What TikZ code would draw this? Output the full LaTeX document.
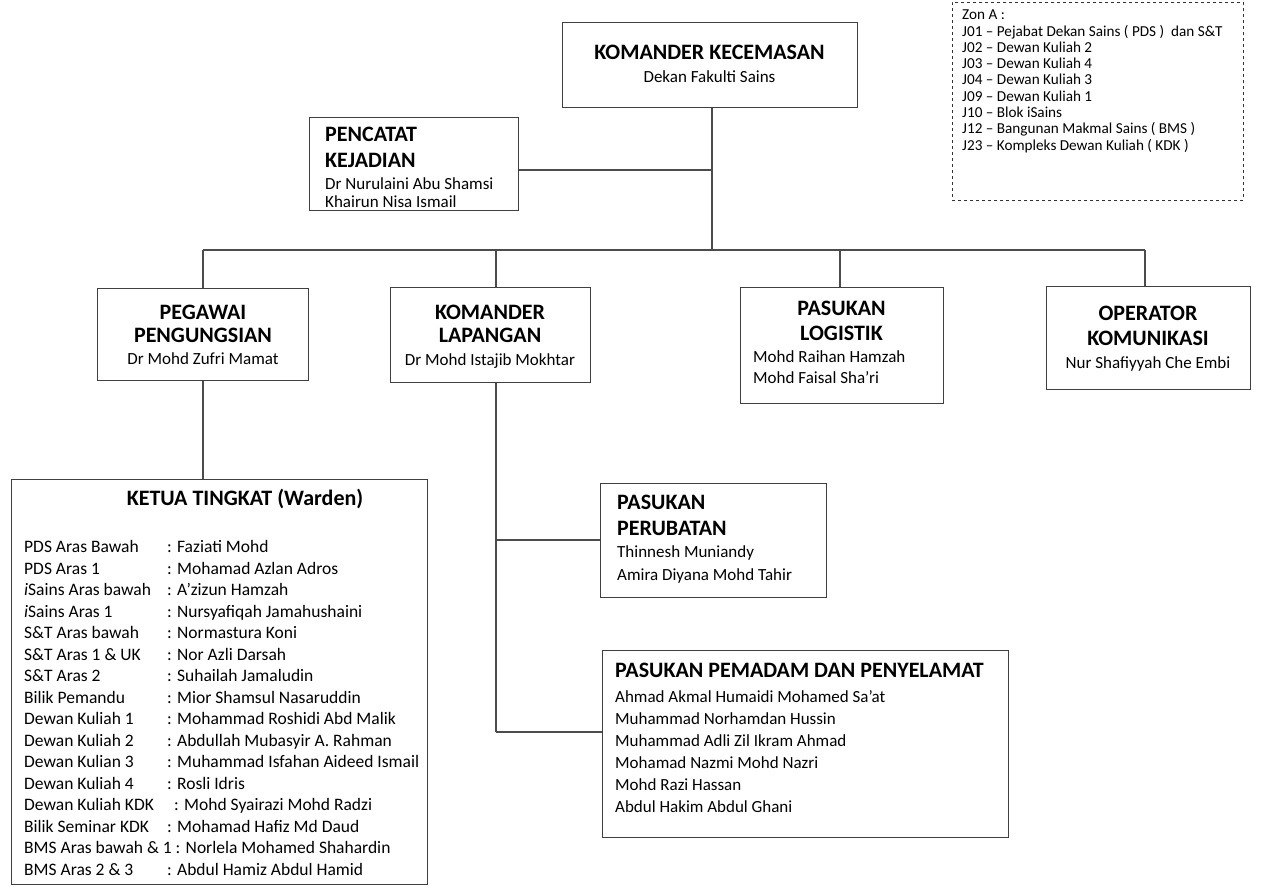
\documentclass[tikz,border=0pt]{standalone}
\usepackage{fontspec}
\setmainfont{Carlito}
\begin{document}
\begin{tikzpicture}[x=1pt,y=-1pt,
  box/.style={draw=black!75, line width=1.2pt, inner sep=0pt, anchor=north west},
  conn/.style={draw=black!70, line width=1.2pt},
  hd/.style={inner sep=0pt, anchor=base, font=\fontsize{22}{26}\selectfont\bfseries},
  hdl/.style={hd, anchor=base west},
  sb/.style={inner sep=0pt, anchor=base, font=\fontsize{17}{20}\selectfont},
  sbl/.style={sb, anchor=base west},
  li/.style={inner sep=0pt, anchor=base west, font=\fontsize{17.5}{20}\selectfont},
  lg/.style={inner sep=0pt, anchor=base west, font=\fontsize{15.2}{17}\selectfont}]
\useasboundingbox (0,0) rectangle (1265,888);

% boxes
\node[box, minimum width=295pt, minimum height=85pt] (kk) at (562,22) {};
\node[box, minimum width=209pt, minimum height=93pt] (pc) at (309,117) {};
\node[box, dashed, draw=black!80, line width=0.8pt, minimum width=291pt, minimum height=198pt] (lgd) at (952,2) {};
\node[box, minimum width=211pt, minimum height=92pt] (pp) at (97,288) {};
\node[box, minimum width=200pt, minimum height=95pt] (kl) at (390,287) {};
\node[box, minimum width=203pt, minimum height=116pt] (pl) at (740,287) {};
\node[box, minimum width=204pt, minimum height=103pt] (ok) at (1046,286) {};
\node[box, minimum width=416pt, minimum height=405pt] (kt) at (11,479) {};
\node[box, minimum width=226pt, minimum height=114pt] (pr) at (600,483) {};
\node[box, minimum width=406pt, minimum height=187pt] (pm) at (602,650) {};

% connector junctions
\coordinate (j0) at (712,250);
\coordinate (jpc) at (712,170);
\coordinate (b1) at (203,250);
\coordinate (b2) at (496,250);
\coordinate (b3) at (840,250);
\coordinate (b4) at (1145,250);
\coordinate (kl1) at (496,540);
\coordinate (kl2) at (496,732);

\draw[conn] (kk.south -| j0) -- (j0);
\draw[conn] (pc.east |- jpc) -- (jpc);
\draw[conn] (b1) -- (b4);
\draw[conn] (b1) -- (pp.north -| b1);
\draw[conn] (b2) -- (kl.north -| b2);
\draw[conn] (b3) -- (pl.north -| b3);
\draw[conn] (b4) -- (ok.north -| b4);
\draw[conn] (pp.south -| b1) -- (kt.north -| b1);
\draw[conn] (kl.south -| kl1) -- (kl2);
\draw[conn] (kl1) -- (pr.west |- kl1);
\draw[conn] (kl2) -- (pm.west |- kl2);

% texts
\node[hd] (kkt) at (709.5,60) {KOMANDER KECEMASAN};
\node[sb] (kks) at (709.5,82.5) {Dekan Fakulti Sains};

\node[hdl] (pct1) at (325,142) {PENCATAT};
\node[hdl] (pct2) at (325,167) {KEJADIAN};
\node[sbl] (pcs1) at (325,189.5) {Dr Nurulaini Abu Shamsi};
\node[sbl] (pcs2) at (325,207.5) {Khairun Nisa Ismail};

\node[hd] (ppt1) at (203,319) {PEGAWAI};
\node[hd] (ppt2) at (203,342) {PENGUNGSIAN};
\node[sb] (pps) at (203,364) {Dr Mohd Zufri Mamat};

\node[hd] (klt1) at (490,319) {KOMANDER};
\node[hd] (klt2) at (490,342) {LAPANGAN};
\node[sb] (kls) at (490,365) {Dr Mohd Istajib Mokhtar};

\node[hd] (plt1) at (841.5,315) {PASUKAN};
\node[hd] (plt2) at (841.5,340) {LOGISTIK};
\node[sbl] (pls1) at (753,362.5) {Mohd Raihan Hamzah};
\node[sbl] (pls2) at (753,383.5) {Mohd Faisal Sha’ri};

\node[hd] (okt1) at (1148,320) {OPERATOR};
\node[hd] (okt2) at (1148,345) {KOMUNIKASI};
\node[sb] (oks) at (1148,368) {Nur Shafiyyah Che Embi};

\node[hdl] (prt1) at (617,509) {PASUKAN};
\node[hdl] (prt2) at (617,535) {PERUBATAN};
\node[sbl] (prs1) at (617,557.5) {Thinnesh Muniandy};
\node[sbl] (prs2) at (617,580.5) {Amira Diyana Mohd Tahir};

\node[hdl] (pmt) at (615,677) {PASUKAN PEMADAM DAN PENYELAMAT};
\foreach \n [count=\i from 0] in {Ahmad Akmal Humaidi Mohamed Sa’at,Muhammad Norhamdan Hussin,Muhammad Adli Zil Ikram Ahmad,Mohamad Nazmi Mohd Nazri,Mohd Razi Hassan,Abdul Hakim Abdul Ghani}
  \node[sbl] (pms\i) at (615,702.5+22*\i) {\n};

\node[hd] (ktt) at (245,505) {KETUA TINGKAT (Warden)};
\foreach \a/\b/\c [count=\i from 0] in {
  PDS Aras Bawah/Faziati Mohd/167,
  PDS Aras 1/Mohamad Azlan Adros/167,
  \textit{i}Sains Aras bawah/A’zizun Hamzah/167,
  \textit{i}Sains Aras 1/Nursyafiqah Jamahushaini/167,
  S\&T Aras bawah/Normastura Koni/167,
  S\&T Aras 1 \& UK/Nor Azli Darsah/167,
  S\&T Aras 2/Suhailah Jamaludin/167,
  Bilik Pemandu/Mior Shamsul Nasaruddin/167,
  Dewan Kuliah 1/Mohammad Roshidi Abd Malik/167,
  Dewan Kuliah 2/Abdullah Mubasyir A. Rahman/167,
  Dewan Kulian 3/Muhammad Isfahan Aideed Ismail/167,
  Dewan Kuliah 4/Rosli Idris/167,
  Dewan Kuliah KDK/Mohd Syairazi Mohd Radzi/174,
  Bilik Seminar KDK/Mohamad Hafiz Md Daud/167}
{
  \node[li] (kta\i) at (24,552.8+21.5*\i) {\a};
  \node[li] (ktb\i) at (\c,552.8+21.5*\i) {: \b};
}
\node[li] (kta14) at (24,552.8+21.5*14) {BMS Aras bawah \& 1 : Norlela Mohamed Shahardin};
\node[li] (kta15) at (24,552.8+21.5*15) {BMS Aras 2 \& 3};
\node[li] (ktb15) at (167,552.8+21.5*15) {: Abdul Hamiz Abdul Hamid};

\foreach \l [count=\i from 0] in {Zon A :,J01 – Pejabat Dekan Sains ( PDS )~ dan S\&T,J02 – Dewan Kuliah 2,J03 – Dewan Kuliah 4,J04 – Dewan Kuliah 3,J09 – Dewan Kuliah 1,J10 – Blok iSains,J12 – Bangunan Makmal Sains ( BMS ),J23 – Kompleks Dewan Kuliah ( KDK )}
  \node[lg] (lg\i) at (962,20+16.25*\i) {\l};
\end{tikzpicture}
\end{document}
